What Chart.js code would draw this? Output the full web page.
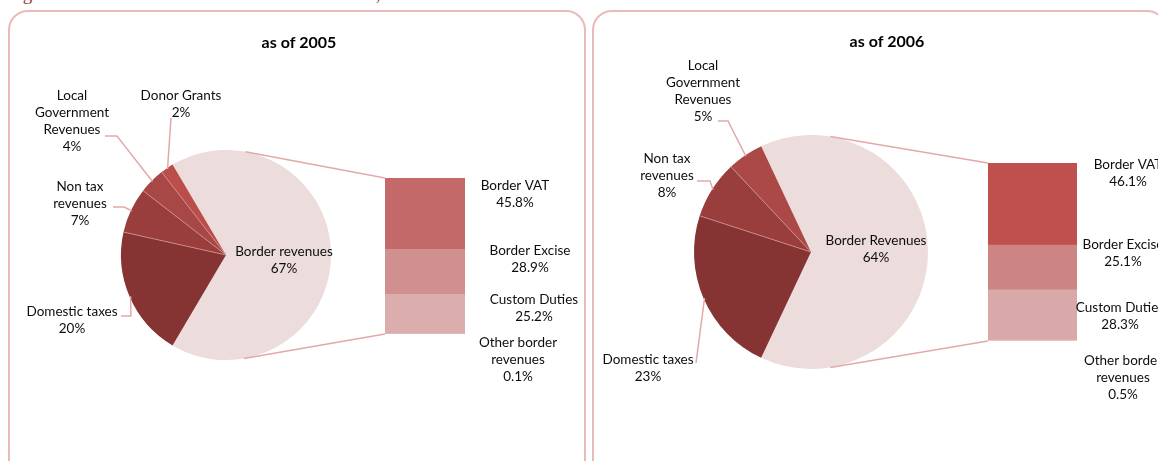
<!DOCTYPE html>
<html>
<head>
<meta charset="utf-8">
<script src="https://cdn.jsdelivr.net/npm/chart.js@4.4.1/dist/chart.umd.min.js"></script>
<style>
  body { margin: 0; width: 1158px; height: 461px; overflow: hidden; background: #fff; position: relative; }
  .caption { position: absolute; left: 7px; top: -17px; font: 19px "Liberation Serif", serif; color: #9e3434; white-space: nowrap; }
  .frame { position: absolute; top: 10px; height: 470px; border: 2px solid #e8baba; border-radius: 20px; box-sizing: border-box; }
  .panel { position: absolute; top: 0; width: 579px; height: 461px; }
  .panel canvas { position: absolute; left: 0; top: 0; }
</style>
</head>
<body>
<div class="caption">Figure 3: Structure of PA Government Revenues, 2005-2006</div>
<div class="frame" style="left:8px; width:578px;"></div>
<div class="frame" style="left:592px; width:575px;"></div>
<div class="panel" style="left:0"><canvas id="bar2005" width="579" height="461"></canvas><canvas id="pie2005" width="579" height="461"></canvas></div>
<div class="panel" style="left:579px"><canvas id="bar2006" width="579" height="461"></canvas><canvas id="pie2006" width="579" height="461"></canvas></div>
<script>
// revenue shares, 2005
const pieNames2005 = [['Border revenues'], ['Domestic taxes'], ['Non tax', 'revenues'], ['Local', 'Government', 'Revenues'], ['Donor Grants']];
const pieShares2005 = [67, 20, 7, 4, 2];
const barNames2005 = [['Other border', 'revenues'], ['Custom Duties'], ['Border Excise'], ['Border VAT']];
const barShares2005 = [0.1, 25.2, 28.9, 45.8];

// revenue shares, 2006
const pieNames2006 = [['Border Revenues'], ['Domestic taxes'], ['Non tax', 'revenues'], ['Local', 'Government', 'Revenues']];
const pieShares2006 = [64, 23, 8, 5];
const barNames2006 = [['Other border', 'revenues'], ['Custom Duties'], ['Border Excise'], ['Border VAT']];
const barShares2006 = [0.5, 28.3, 25.1, 46.1];

const FONT = '13.5px Lato';
const INK = '#0d0d0d';
const LEADER = '#e3a9a9';
const LINE_H = 17;

function textBlock(ctx, lines, x, y) {
  lines.forEach((t, i) => ctx.fillText(t, x, y + i * LINE_H));
}

function makePanel(p) {
  const barChart = new Chart(document.getElementById(p.barId), {
    type: 'bar',
    data: {
      labels: [''],
      datasets: p.barShares.map((v, i) => ({
        data: [v],
        backgroundColor: p.barColors[i],
        borderWidth: 0,
        barPercentage: 1,
        categoryPercentage: 1
      }))
    },
    options: {
      responsive: false,
      animation: false,
      layout: { padding: p.barPad },
      scales: {
        x: { stacked: true, display: false },
        y: { stacked: true, display: false, min: 0, max: 100 }
      },
      plugins: { legend: { display: false }, tooltip: { enabled: false } }
    },
    plugins: [{
      id: 'barLabels',
      afterDraw(chart) {
        const ctx = chart.ctx;
        ctx.save();
        ctx.font = FONT;
        ctx.fillStyle = INK;
        ctx.textAlign = 'center';
        ctx.textBaseline = 'middle';
        p.barShares.forEach((v, i) => {
          const s = p.barSpots[i];
          textBlock(ctx, p.barNames[i].concat(v.toFixed(1) + '%'), s[0], s[1]);
        });
        ctx.restore();
      }
    }]
  });

  new Chart(document.getElementById(p.pieId), {
    type: 'pie',
    data: {
      labels: p.pieNames.map(n => n.join(' ')),
      datasets: [{
        data: p.pieShares,
        backgroundColor: p.pieColors,
        borderWidth: 0,
        radius: p.radius
      }]
    },
    options: {
      responsive: false,
      animation: false,
      // the combined slice is centred on the right, facing the bar
      rotation: 90 - p.pieShares[0] * 1.8,
      layout: { padding: p.piePad },
      plugins: { legend: { display: false }, tooltip: { enabled: false } }
    },
    plugins: [{
      id: 'pieLabels',
      afterDraw(chart) {
        const ctx = chart.ctx;
        const arcs = chart.getDatasetMeta(0).data;
        ctx.save();

        // thin dividers between the dark slices only, no outline round the pie
        ctx.strokeStyle = '#d58f8f';
        ctx.lineWidth = 0.8;
        arcs.slice(2).forEach(arc => {
          ctx.beginPath();
          ctx.moveTo(arc.x, arc.y);
          ctx.lineTo(arc.x + Math.cos(arc.startAngle) * arc.outerRadius, arc.y + Math.sin(arc.startAngle) * arc.outerRadius);
          ctx.stroke();
        });

        ctx.font = 'bold 16px Lato';
        ctx.fillStyle = '#000';
        ctx.textAlign = 'center';
        ctx.textBaseline = 'middle';
        ctx.fillText(p.title, p.titlePos[0], p.titlePos[1]);

        ctx.strokeStyle = LEADER;
        ctx.lineWidth = 1.5;
        ctx.font = FONT;
        ctx.fillStyle = INK;
        arcs.forEach((arc, i) => {
          const s = p.pieSpots[i];
          if (s.leader) {
            const mid = (arc.startAngle + arc.endAngle) / 2;
            ctx.beginPath();
            s.leader.forEach((pt, k) => k ? ctx.lineTo(pt[0], pt[1]) : ctx.moveTo(pt[0], pt[1]));
            ctx.lineTo(arc.x + Math.cos(mid) * (arc.outerRadius - 1), arc.y + Math.sin(mid) * (arc.outerRadius - 1));
            ctx.stroke();
          }
          textBlock(ctx, p.pieNames[i].concat(p.pieShares[i] + '%'), s.at[0], s.at[1]);
        });

        // series lines: tangents from the bar's left corners to the pie
        const segs = barChart.data.datasets.map((d, i) => barChart.getDatasetMeta(i).data[0]);
        const topSeg = segs[segs.length - 1];
        const left = topSeg.x - topSeg.width / 2;
        const corners = [[left, topSeg.y, -1], [left, segs[0].base, 1]];
        const c = arcs[0];
        corners.forEach(([bx, by, side]) => {
          const dx = bx - c.x, dy = by - c.y;
          const d = Math.hypot(dx, dy);
          const a = Math.atan2(dy, dx) + side * Math.acos(c.outerRadius / d);
          ctx.beginPath();
          ctx.moveTo(c.x + Math.cos(a) * c.outerRadius, c.y + Math.sin(a) * c.outerRadius);
          ctx.lineTo(bx, by);
          ctx.stroke();
        });
        ctx.restore();
      }
    }]
  });
}

makePanel({
  title: 'as of 2005',
  titlePos: [299, 43],
  pieId: 'pie2005', barId: 'bar2005',
  pieNames: pieNames2005, pieShares: pieShares2005,
  barNames: barNames2005, barShares: barShares2005,
  pieColors: ['#ecdcdc', '#863433', '#993e3d', '#a84846', '#bb4d4a'],
  barColors: ['#e6c4c4', '#dcadad', '#d09090', '#c4696a'],
  radius: 105,
  piePad: { left: 121, right: 248, top: 150, bottom: 101 },
  barPad: { left: 385, right: 114, top: 178, bottom: 127 },
  pieSpots: [
    { at: [284, 252] },
    { at: [72, 312], leader: [[121, 316], [131, 316]] },
    { at: [80, 187], leader: [[113, 207], [124, 207]] },
    { at: [72, 96], leader: [[105, 136], [117, 136]] },
    { at: [181, 96], leader: [[171, 118]] }
  ],
  barSpots: [[518, 343], [534, 300], [530, 251], [515, 186]]
});

makePanel({
  title: 'as of 2006',
  titlePos: [308, 42],
  pieId: 'pie2006', barId: 'bar2006',
  pieNames: pieNames2006, pieShares: pieShares2006,
  barNames: barNames2006, barShares: barShares2006,
  pieColors: ['#ecdcdc', '#863433', '#993e3d', '#aa4946'],
  barColors: ['#e6c4c4', '#d9a8a8', '#cc8583', '#c0504d'],
  radius: 117,
  piePad: { left: 115, right: 230, top: 135, bottom: 92 },
  barPad: { left: 409, right: 81, top: 163, bottom: 120 },
  pieSpots: [
    { at: [297, 241] },
    { at: [69, 360], leader: [[117, 363]] },
    { at: [88, 159], leader: [[118, 181], [131, 181]] },
    { at: [124, 66], leader: [[139, 121], [149, 121]] }
  ],
  barSpots: [[544, 361], [541, 308], [544, 245], [549, 165]]
});
</script>
</body>
</html>
